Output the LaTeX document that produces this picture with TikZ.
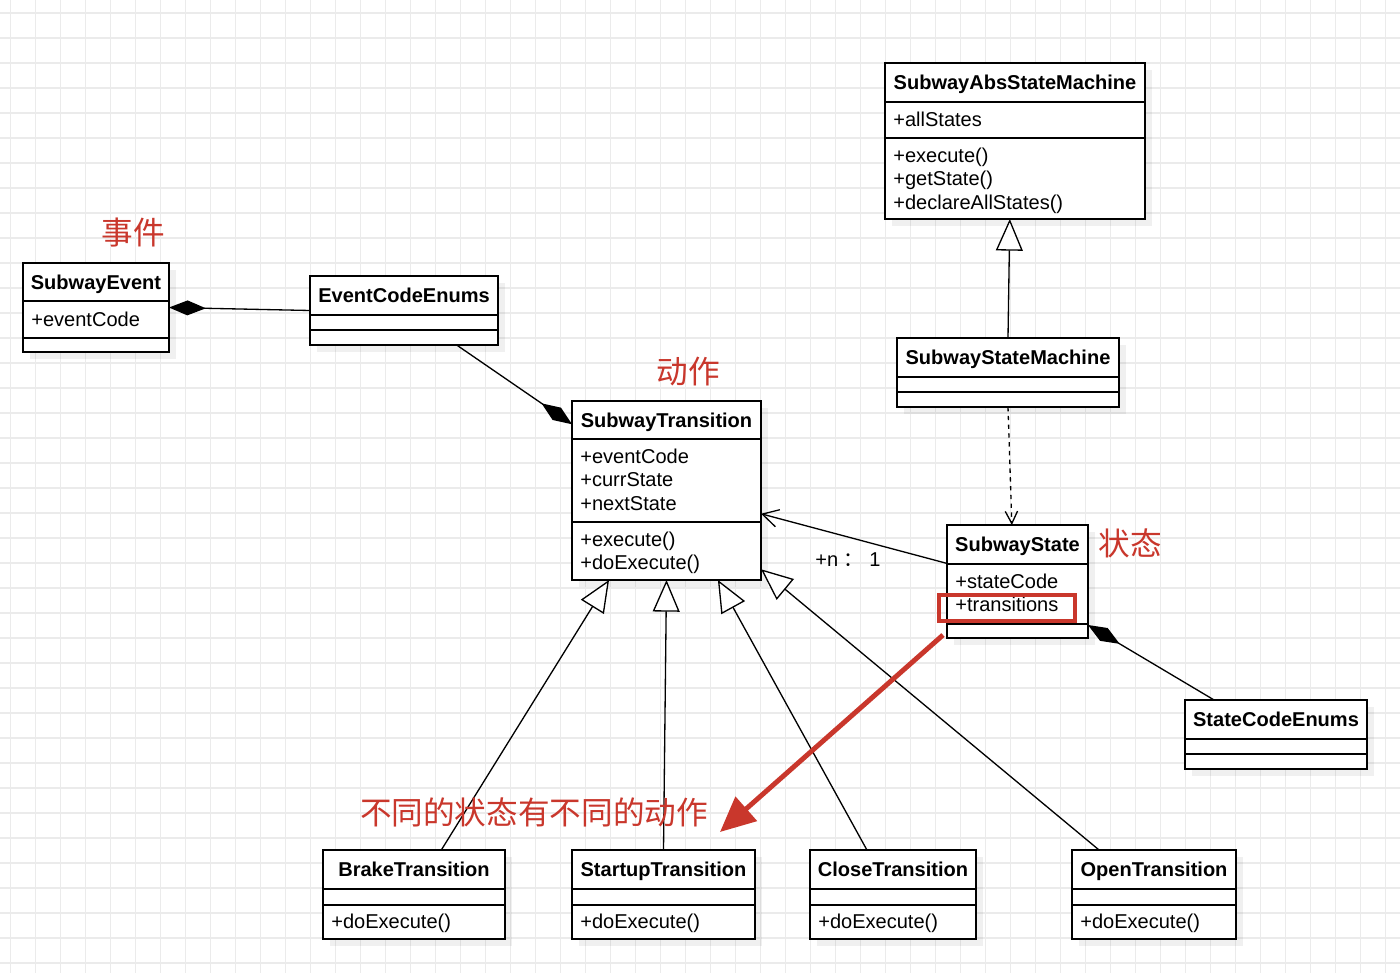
\documentclass[tikz,border=0pt]{standalone}
\usepackage{fontspec}
\setmainfont{Liberation Sans}
\newfontfamily\cjk{Noto Sans CJK SC}
\usetikzlibrary{arrows.meta,calc,shadows}
\definecolor{rot}{HTML}{C9372C}
\definecolor{gridgrey}{HTML}{EBEBEB}
\tikzset{
  gline/.style={gridgrey,line width=0.6pt},
  cls/.style={draw=black,line width=0.85pt,fill=white,inner sep=0pt,outer sep=0pt,
    drop shadow={shadow xshift=4pt,shadow yshift=-4pt,fill=black,opacity=0.06}},
  divider/.style={line width=0.85pt},
  ctitle/.style={font=\bfseries\fontsize{11.4}{13}\selectfont,inner sep=0pt,text height=8.2pt,text depth=0pt},
  member/.style={font=\fontsize{11.4}{13}\selectfont,anchor=west,inner sep=0pt,text height=8.2pt,text depth=0pt},
  inherit/.style={-{Triangle[length=18pt,width=15.3pt,fill=white]},line width=0.75pt},
  compose/.style={-{Diamond[length=21pt,width=8.5pt]},line width=0.75pt},
  assoc/.style={-{Straight Barb[length=9pt,width=10pt]},line width=0.75pt},
  dep/.style={-{Straight Barb[length=7pt,width=7pt]},line width=0.75pt,dash pattern=on 2.5pt off 2.5pt},
  note/.style={text=rot,font=\cjk\fontsize{18}{20}\selectfont,inner sep=0pt},
  redbox/.style={draw=rot,line width=2.8pt},
  hint/.style={-{Triangle[length=20pt,width=18pt]},rot,line width=2.8pt},
}
\newcommand\uml[8]{%
  \node[cls,minimum width={(#4-#2)*0.02cm},minimum height={(#5-#3)*0.02cm}] (#1) at ({(#2+#4)/2},{(#3+#5)/2}) {};
  \draw[divider] (#2,#6) -- (#4,#6) (#2,#7) -- (#4,#7);
  \node[ctitle] (#1-t) at ({(#2+#4)/2},{(#3+#6)/2}) {#8};
}
\newcommand\members[4]{%
  \foreach \m [count=\i from 0] in {#4}
    \node[member] (#1-\i) at (#2,{#3+23.5*\i}) {\m};
}

\begin{document}
\begin{tikzpicture}[x=0.02cm,y=-0.02cm]
  \useasboundingbox[fill=white] (0,0) rectangle (1400,973);
  \foreach \x in {0,...,55} \draw[gline] ({10.7+25*\x},0) -- ({10.7+25*\x},973);
  \foreach \y in {0,...,38} \draw[gline] (0,{13+25*\y}) -- (1400,{13+25*\y});

  \uml{ev}{23}{263}{169}{352}{301}{338}{SubwayEvent}
  \members{eva}{31}{319}{+eventCode}
  \uml{ec}{310}{276}{498}{345}{315}{330}{EventCodeEnums}
  \uml{abs}{885}{63}{1145}{219}{102}{138}{SubwayAbsStateMachine}
  \members{absa}{893}{119}{+allStates}
  \members{absm}{893}{155}{+execute(),+getState(),+declareAllStates()}
  \uml{sm}{897}{338}{1119}{407}{377}{392}{SubwayStateMachine}
  \uml{tr}{572}{401}{761}{580}{439}{522}{SubwayTransition}
  \members{tra}{580}{456}{+eventCode,+currState,+nextState}
  \members{trm}{580}{539}{+execute(),+doExecute()}
  \uml{st}{947}{525}{1088}{638}{564}{624}{SubwayState}
  \members{sta}{955}{581}{+stateCode,+transitions}
  \uml{sc}{1185}{700}{1367}{769}{739}{754}{StateCodeEnums}
  \uml{bt}{323}{850}{505}{939}{889}{905}{BrakeTransition}
  \members{btm}{331}{921}{+doExecute()}
  \uml{su}{572}{850}{755}{939}{889}{905}{StartupTransition}
  \members{sum}{580}{921}{+doExecute()}
  \uml{ct}{810}{850}{976}{939}{889}{905}{CloseTransition}
  \members{ctm}{818}{921}{+doExecute()}
  \uml{ot}{1072}{850}{1236}{939}{889}{905}{OpenTransition}
  \members{otm}{1080}{921}{+doExecute()}

  \draw[compose] (ec.west) -- (ev.east);
  \draw[compose] ($(ec.south west)!0.78!(ec.south east)$) -- ($(tr.north west)!0.13!(tr.south west)$);
  \draw[inherit] (sm.north) -- ($(abs.south west)!0.48!(abs.south east)$);
  \draw[dep] (sm.south) -- ($(st.north west)!0.46!(st.north east)$);
  \draw[assoc] ($(st.north west)!0.34!(st.south west)$) -- ($(tr.north east)!0.63!(tr.south east)$);
  \node[member,anchor=center] (mult) at (848,559) {+n {\cjk ：} 1};
  \draw[compose] ($(sc.north west)!0.16!(sc.north east)$) -- ($(st.north east)!0.885!(st.south east)$);
  \draw[inherit] ($(bt.north west)!0.65!(bt.north east)$) -- ($(tr.south west)!0.196!(tr.south east)$);
  \draw[inherit] (su.north) -- (tr.south);
  \draw[inherit] ($(ct.north west)!0.343!(ct.north east)$) -- ($(tr.south west)!0.772!(tr.south east)$);
  \draw[inherit] ($(ot.north west)!0.165!(ot.north east)$) -- ($(tr.north east)!0.94!(tr.south east)$);

  \node[note] (n1) at (133,233) {事件};
  \node[note] (n2) at (688,372) {动作};
  \node[note] (n3) at (1130,543) {状态};
  \node[note] (n4) at (534,812) {不同的状态有不同的动作};
  \draw[redbox] (939,595) rectangle (1075,621);
  \coordinate (hfrom) at (943,635);
  \coordinate (hto) at (720,832);
  \draw[hint] (hfrom) -- (hto);
\end{tikzpicture}
\end{document}
